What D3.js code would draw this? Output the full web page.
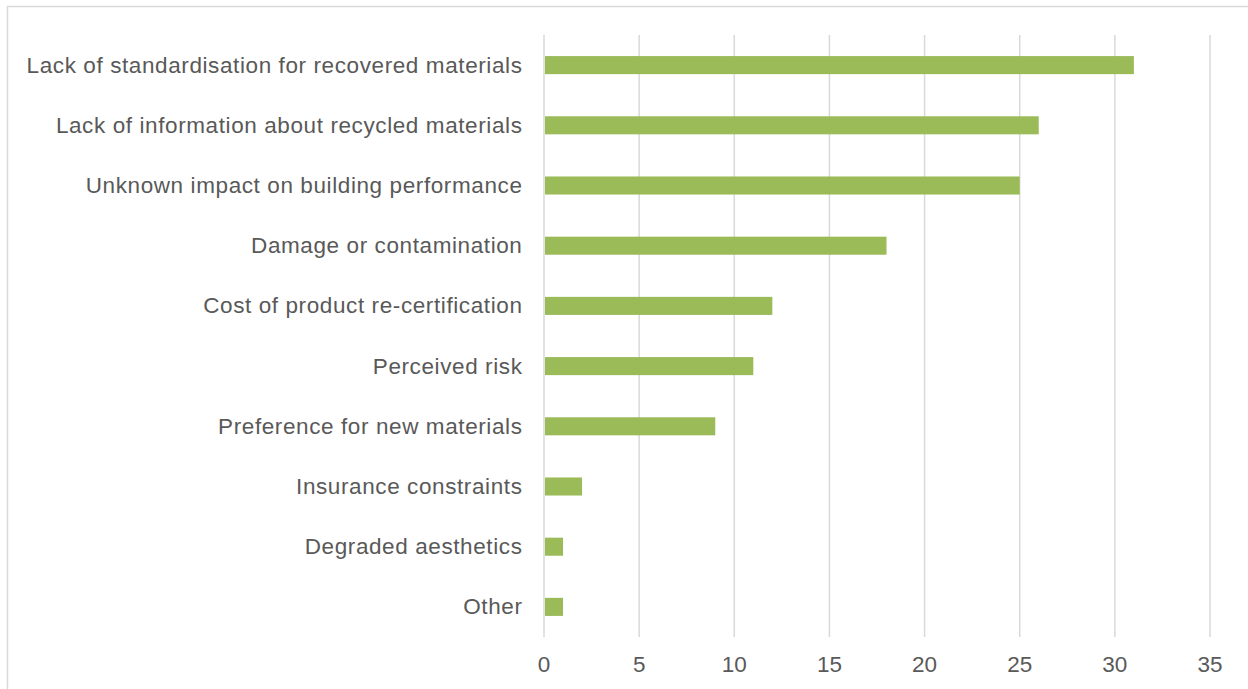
<!DOCTYPE html>
<html>
<head>
<meta charset="utf-8">
<script src="https://cdn.jsdelivr.net/npm/d3@7"></script>
<style>
  body { margin: 0; background: #fff; }
  text { font-family: "Liberation Sans", Arial, sans-serif; }
</style>
</head>
<body>
<div id="chart"></div>
<script>
// data
var categories = [
	"Lack of standardisation for recovered materials",
	"Lack of information about recycled materials",
	"Unknown impact on building performance",
	"Damage or contamination",
	"Cost of product re-certification",
	"Perceived risk",
	"Preference for new materials",
	"Insurance constraints",
	"Degraded aesthetics",
	"Other"
];
var values = [31, 26, 25, 18, 12, 11, 9, 2, 1, 1];
var xTicks = [0, 5, 10, 15, 20, 25, 30, 35];

var W = 1248, H = 689;
var svg = d3.select("#chart")
	.append("svg")
	.attr("width", W)
	.attr("height", H);

// chart area border (cut by the page edges)
svg.append("rect")
	.attr("x", 7.5)
	.attr("y", 6.5)
	.attr("width", 1300)
	.attr("height", 800)
	.attr("fill", "none")
	.attr("stroke", "#d9d9d9")
	.attr("stroke-width", 1.5);

var x = d3.scaleLinear().domain([0, 35]).range([544, 1210]);
var y = d3.scaleBand().domain(categories).range([35, 637]).paddingInner(0.7).paddingOuter(0.35);

// gridlines
svg.append("g").selectAll("line")
	.data(xTicks)
	.join("line")
	.attr("x1", d => x(d))
	.attr("x2", d => x(d))
	.attr("y1", 35)
	.attr("y2", 637)
	.attr("stroke", "#d9d9d9")
	.attr("stroke-width", 1.5);

// bars
svg.append("g").selectAll("rect")
	.data(values)
	.join("rect")
	.attr("x", x(0) + 1)
	.attr("y", (d, i) => y(categories[i]))
	.attr("width", d => x(d) - x(0) - 1)
	.attr("height", y.bandwidth())
	.attr("fill", "#9bbb59");

// category labels
svg.append("g").selectAll("text")
	.data(categories)
	.join("text")
	.attr("x", 522.5)
	.attr("y", d => y(d) + y.bandwidth() / 2)
	.attr("dy", "0.33em")
	.attr("text-anchor", "end")
	.attr("font-size", "22.5px")
	.attr("letter-spacing", "0.6px")
	.attr("fill", "#595959")
	.text(d => d);

// x tick labels
svg.append("g").selectAll("text")
	.data(xTicks)
	.join("text")
	.attr("x", d => x(d))
	.attr("y", 672)
	.attr("text-anchor", "middle")
	.attr("font-size", "22.5px")
	.attr("fill", "#595959")
	.text(d => d);
</script>
</body>
</html>
